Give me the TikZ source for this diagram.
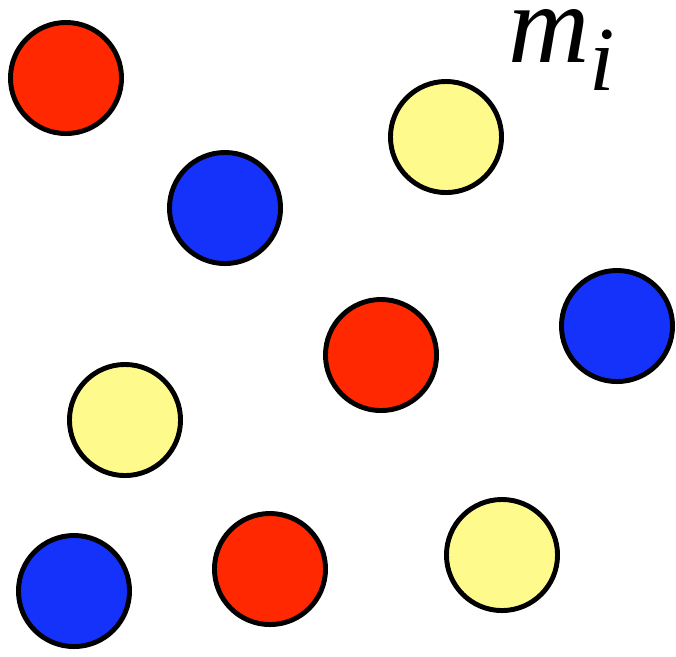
\documentclass[tikz,border=0pt]{standalone}
\usepackage{fontspec}
\setmainfont{Liberation Serif}[ItalicFont={Liberation Serif Italic}]
\usepackage{xcolor}
\definecolor{ballred}{RGB}{255,40,0}
\definecolor{ballblue}{RGB}{20,50,250}
\definecolor{ballyellow}{RGB}{255,250,140}
\tikzset{
  ball/.style={circle, draw=black, line width=1.4pt, minimum size=1.11cm, inner sep=0pt},
}
\begin{document}
\begin{tikzpicture}[x=0.01cm,y=-0.01cm]%
  \useasboundingbox (0,0) rectangle (676,656);
  % particles
  \node[ball, fill=ballred]    (r1) at (66,78)   {};
  \node[ball, fill=ballblue]   (b1) at (225,208) {};
  \node[ball, fill=ballyellow] (y1) at (446,137) {};
  \node[ball, fill=ballred]    (r2) at (381,355) {};
  \node[ball, fill=ballblue]   (b2) at (617,326) {};
  \node[ball, fill=ballyellow] (y2) at (125,420) {};
  \node[ball, fill=ballblue]   (b3) at (74,591)  {};
  \node[ball, fill=ballred]    (r3) at (270,569) {};
  \node[ball, fill=ballyellow] (y3) at (502,555) {};
  % label
  \node[anchor=base west, inner sep=0pt, text height=0.52cm, text depth=0.25cm,
        font=\fontsize{32}{32}\selectfont\itshape] (mass) at (508,62)
    {m\raisebox{-0.55ex}{\fontsize{26}{26}\selectfont i}};
\end{tikzpicture}
\end{document}
